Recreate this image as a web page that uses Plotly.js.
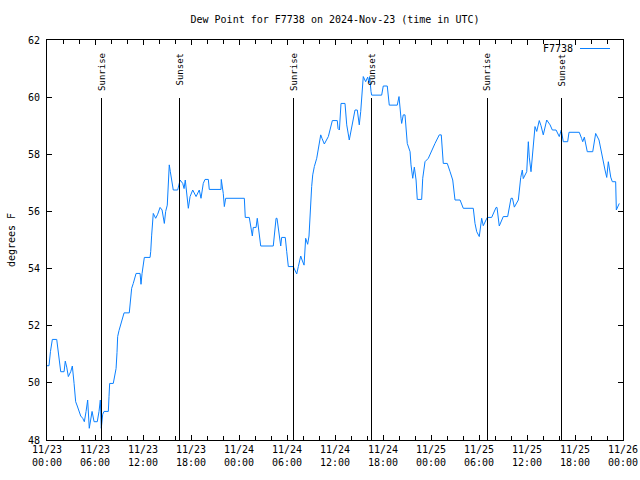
<!DOCTYPE html>
<html>
<head>
<meta charset="utf-8">
<script src="https://cdn.plot.ly/plotly-3.0.1.min.js"></script>
<style>html,body{margin:0;padding:0;background:#fff;}#chart{width:640px;height:480px;}
#chart .shapelayer path{shape-rendering:crispEdges;}</style>
</head>
<body>
<div id="chart"></div>
<script>
// Data: minutes after 2024-11-23 00:00 UTC, and dew point (degrees F)
const startTime = Date.UTC(2024, 10, 23, 0, 0);
const minutesSinceStart = [
  0,15,26,40,73,85,90,103,128,137,148,160,178,190,203,215,227,242,253,268,
  280,293,305,317,338,353,377,390,400,407,418,428,460,465,470,497,510,518,525,530,
  540,550,560,578,617,628,635,647,668,698,705,713,722,730,773,778,785,793,797,815,
  830,848,863,880,890,902,910,917,925,935,947,980,988,998,1018,1028,1037,1055,1060,1073,
  1093,1118,1142,1155,1172,1185,1210,1217,1305,1307,1322,1330,1340,1480,1487,1517,1528,1540,1547,1568,
  1577,1598,1603,1697,1718,1725,1740,1753,1760,1787,1798,1810,1847,1860,1873,1885,1903,1913,1928,1940,
  1955,1965,1973,1980,1985,1993,2005,2023,2035,2053,2063,2080,2110,2140,2177,2183,2193,2205,2235,2248,
  2267,2285,2310,2327,2342,2353,2360,2372,2390,2405,2415,2420,2430,2435,2510,2522,2552,2567,2627,2640,
  2655,2660,2672,2685,2702,2723,2730,2743,2755,2768,2777,2810,2818,2835,2860,2885,2910,2942,2957,2972,
  3002,3023,3043,3060,3098,3122,3197,3210,3223,3242,3260,3272,3293,3302,3335,3368,3375,3392,3422,3455,
  3480,3491,3505,3535,3553,3565,3572,3598,3610,3617,3630,3647,3660,3673,3692,3705,3722,3748,3773,3790,
  3818,3842,3857,3872,3905,3915,3992,4010,4018,4030,4052,4093,4115,4140,4160,4185,4198,4210,4228,4240,
  4265,4270,4292
];
const dewPoint = [
  50.6,50.6,51.1,51.52,51.52,51.0,50.78,50.39,50.39,50.76,50.55,50.22,50.39,50.59,49.98,49.34,49.19,48.98,48.84,48.76,
  48.64,49.0,49.4,48.41,49.0,48.64,48.64,49.0,49.4,48.41,48.9,49.0,49.0,49.52,49.98,49.98,50.27,50.5,51.06,51.62,
  51.83,51.99,52.1,52.45,52.45,52.96,53.31,53.48,53.83,53.83,53.45,53.83,54.24,54.39,54.39,54.6,55.17,55.7,55.93,55.76,
  55.9,56.14,56.05,55.58,56.0,56.22,56.98,57.63,57.39,57.1,56.75,56.75,56.92,57.1,56.98,56.8,57.1,56.28,56.11,56.52,
  56.75,56.52,56.75,56.46,56.98,57.12,57.12,56.77,56.77,57.12,56.63,56.17,56.46,56.46,55.79,55.79,55.47,55.14,55.44,55.44,
  55.76,54.94,54.79,54.79,55.76,55.76,55.3,54.79,55.09,55.09,54.59,54.07,54.07,53.95,53.81,54.07,54.44,54.3,54.12,55.06,
  54.85,55.14,56.05,56.6,56.87,57.28,57.57,57.86,58.21,58.68,58.55,58.36,58.62,59.18,59.18,58.9,58.85,59.78,59.78,59.03,
  58.5,58.91,59.55,59.55,59.03,59.5,59.96,60.72,60.54,60.7,60.5,60.72,60.2,60.07,60.07,60.39,60.39,59.72,59.72,60.02,
  59.26,59.08,59.38,59.38,58.38,58.09,57.63,57.16,57.55,57.1,56.42,56.42,57.16,57.74,57.86,58.15,58.38,58.68,58.68,57.68,
  57.68,57.39,57.1,56.4,56.4,56.11,56.11,55.58,55.29,55.12,55.76,55.5,55.7,55.79,55.79,56.14,56.14,55.49,55.82,55.82,
  56.46,56.46,56.15,56.4,57.19,57.45,57.15,57.39,58.44,57.9,57.39,58.38,58.97,58.8,59.18,59.0,58.68,59.2,59.03,58.85,
  58.85,58.62,58.85,58.44,58.44,58.77,58.77,58.55,58.44,58.6,58.09,58.09,58.73,58.5,57.97,57.45,57.19,57.74,57.2,57.04,
  57.04,56.05,56.28
];
const seriesName = "F7738";
const eventTimes = ["2024-11-23 06:52","2024-11-23 16:30","2024-11-24 06:52","2024-11-24 16:30","2024-11-25 07:00","2024-11-25 16:22"];
const eventLabels = ["Sunrise","Sunset","Sunrise","Sunset","Sunrise","Sunset"];
const yTickValues = [48,50,52,54,56,58,60,62];

function iso(ms){ return new Date(ms).toISOString().replace('T',' ').slice(0,16); }
const times = minutesSinceStart.map(m => iso(startTime + m*60000));

const mono = "DejaVu Sans Mono, monospace";
const lineColor = "#0a80ff";

const shapes = eventTimes.map(t => ({
  type:'line', xref:'x', yref:'paper', x0:t, x1:t, y0:0, y1:0.855,
  line:{color:'black', width:1}
}));
shapes.push({type:'line', xref:'paper', yref:'paper', x0:0.9253, x1:0.9774, y0:0.98, y1:0.98,
  line:{color:lineColor, width:1}});

const annotations = eventTimes.map((t,i) => ({
  x:t, xref:'x', y:1, yref:'paper', yanchor:'top', xanchor:'center', yshift:-11,
  text:eventLabels[i], textangle:-90, showarrow:false,
  font:{family:mono, size:9, color:'black'}
}));
annotations.push({x:0.9167, xref:'paper', y:0.98, yref:'paper', xanchor:'right', yanchor:'middle',
  text:seriesName, showarrow:false, font:{family:mono, size:10, color:'black'}});

const trace = {
  x: times, y: dewPoint, type:'scatter', mode:'lines', name:seriesName,
  line:{color:lineColor, width:1}, showlegend:false
};

const layout = {
  width:640, height:480,
  margin:{l:47, r:17, t:40, b:40},
  paper_bgcolor:'white', plot_bgcolor:'white',
  font:{family:mono, size:10, color:'black'},
  title:{text:'Dew Point for F7738 on 2024-Nov-23 (time in UTC)', x:0.5, xref:'paper',
         y:1-19/480, yref:'container', yanchor:'middle', font:{family:mono, size:10, color:'black'}},
  xaxis:{
    type:'date', range:['2024-11-23 00:00','2024-11-26 00:00'],
    tick0:'2024-11-23 00:00', dtick:6*3600000, tickformat:'%m/%d<br>%H:%M',
    ticks:'inside', ticklen:5, tickcolor:'black', showgrid:false, zeroline:false,
    showline:true, linecolor:'black', linewidth:1, mirror:'ticks',
    minor:{dtick:2*3600000, ticks:'inside', ticklen:4, tickcolor:'black', showgrid:false},
    tickfont:{family:mono, size:10, color:'black'}
  },
  yaxis:{
    range:[48,62], tickvals:yTickValues, ticktext:yTickValues.map(String),
    ticks:'inside', ticklen:5, tickcolor:'black', showgrid:false, zeroline:false,
    showline:true, linecolor:'black', linewidth:1, mirror:'ticks',
    ticklabelstandoff:4,
    title:{text:'degrees F', standoff:10, font:{family:mono, size:10, color:'black'}},
    tickfont:{family:mono, size:10, color:'black'}
  },
  shapes:shapes,
  annotations:annotations,
  showlegend:false
};

Plotly.newPlot('chart', [trace], layout, {displayModeBar:false, staticPlot:true});
</script>
</body>
</html>
